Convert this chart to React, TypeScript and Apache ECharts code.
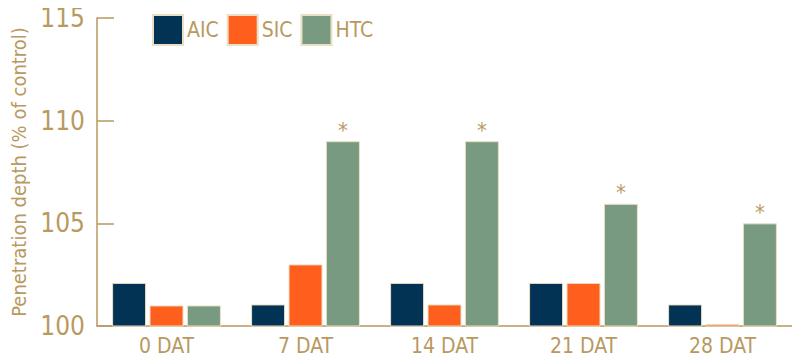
import React, { useEffect, useRef } from "react";
import * as echarts from "echarts";

const categories = ["0 DAT", "7 DAT", "14 DAT", "21 DAT", "28 DAT"];
const seriesNames = ["AIC", "SIC", "HTC"];
const aicValues = [102.1, 101.05, 102.1, 102.1, 101.05];
const sicValues = [101.0, 103.0, 101.05, 102.1, 100.1];
const htcValues = [101.0, 109.0, 109.0, 105.95, 105.0];
const htcSignificant = [false, true, true, true, true];
const yTicks = { min: 100, max: 115, interval: 5 };

const GOLD = "#b8995f";
const FONT = "'Liberation Sans Narrow', 'DejaVu Sans Condensed', 'Roboto', sans-serif";
const colors = ["#023355", "#ff5f1c", "#789a80"];

export default function App() {
  const ref = useRef<HTMLDivElement>(null);
  useEffect(() => {
    if (!ref.current) return;
    const chart = echarts.init(ref.current, undefined, { renderer: "svg" });
    const barStyle = (c: string) => ({ color: c, borderColor: "#eadfc4", borderWidth: 1 });
    chart.setOption({
      animation: false,
      textStyle: { fontFamily: FONT },
      legend: {
        data: seriesNames,
        left: 147,
        top: 9,
        itemWidth: 30,
        itemHeight: 30,
        itemGap: 8,
        icon: "rect",
        textStyle: { color: GOLD, fontSize: 21, fontFamily: FONT, padding: [0, 0, 0, -1] },
      },
      grid: { left: 97, right: 8, top: 18, bottom: 35, containLabel: false },
      xAxis: {
        type: "category",
        data: categories,
        axisLine: { lineStyle: { color: GOLD, width: 1.5 } },
        axisTick: { inside: true, length: 7, lineStyle: { color: GOLD, width: 1.5 } },
        axisLabel: { color: GOLD, fontSize: 21, fontFamily: FONT, margin: 9 },
      },
      yAxis: {
        type: "value",
        min: yTicks.min,
        max: yTicks.max,
        interval: yTicks.interval,
        name: "Penetration depth (% of control)",
        nameLocation: "middle",
        nameGap: 56,
        nameTextStyle: { color: GOLD, fontSize: 20, fontFamily: FONT },
        axisLine: { show: true, lineStyle: { color: GOLD, width: 1.5 } },
        axisTick: { show: true, inside: true, length: 17, lineStyle: { color: GOLD, width: 1.5 } },
        axisLabel: { color: GOLD, fontSize: 26, fontFamily: FONT, margin: 12 },
        splitLine: { show: false },
      },
      series: [
        { name: "AIC", type: "bar", data: aicValues, barWidth: 34, barGap: "10%", itemStyle: barStyle(colors[0]) },
        { name: "SIC", type: "bar", data: sicValues, barWidth: 34, barGap: "10%", itemStyle: barStyle(colors[1]) },
        {
          name: "HTC",
          type: "bar",
          data: htcValues.map((v, i) => ({
            value: v,
            label: {
              show: htcSignificant[i],
              position: "top",
              formatter: "*",
              color: GOLD,
              fontSize: 22,
              fontFamily: FONT,
              distance: 0,
            },
          })),
          barWidth: 34,
          barGap: "10%",
          itemStyle: barStyle(colors[2]),
        },
      ],
    });
    return () => chart.dispose();
  }, []);
  return <div ref={ref} style={{ width: 800, height: 361, margin: -8, background: "#fff" }} />;
}
